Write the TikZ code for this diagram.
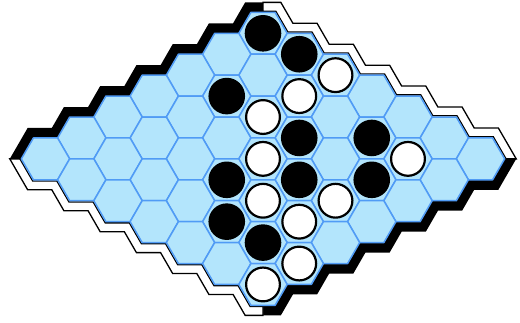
\documentclass[tikz,border=0pt]{standalone}
\usetikzlibrary{calc}
\definecolor{cellfill}{RGB}{179,229,252}
\definecolor{celledge}{RGB}{80,155,245}

\begin{document}
\begin{tikzpicture}[x=1pt, y=1pt,
  cell/.style={fill=cellfill, draw=celledge, line width=1.5pt, line join=round},
  bside/.style={fill=black},
  wside/.style={fill=white, draw=black, line width=1.3pt},
  blk/.style={circle, fill=black, minimum size=36.6pt, inner sep=0pt},
  wht/.style={circle, fill=white, draw=black, line width=2.2pt, minimum size=33.8pt, inner sep=0pt}]
  \def\s{24.17}
  \useasboundingbox (0,0) rectangle (520,322);
  % cell centres
  \foreach \a in {0,...,6}
    \foreach \b in {0,...,6}
      \coordinate (h-\a-\b) at ({263+36.25*(\b-\a)}, {288.7-20.93*(\a+\b)});
  % black sides
  \fill[bside] ($(h-6-0)+(180:\s)$)
    \foreach \a in {6,...,1} { -- ($(h-\a-0)+(120:\s)$) -- ($(h-\a-0)+(60:\s)$) }
    -- ($(h-0-0)+(120:\s)$) -- ($(h-0-0)+(0,20.93)$) -- ($(h-0-0)+(0,30.93)$)
    -- ($(h-0-0)+(120:\s)+(-5.75,10)$)
    \foreach \a in {1,...,6} { -- ($(h-\a-0)+(60:\s)+(-5.75,10)$) -- ($(h-\a-0)+(120:\s)+(-5.75,10)$) }
    -- ($(h-6-0)+(180:\s)+(-11.55,0)$) -- cycle;
  \fill[bside] ($(h-0-6)+(0:\s)$)
    \foreach \a in {0,...,5} { -- ($(h-\a-6)+(300:\s)$) -- ($(h-\a-6)+(240:\s)$) }
    -- ($(h-6-6)+(300:\s)$) -- ($(h-6-6)+(0,-20.93)$) -- ($(h-6-6)+(0,-30.93)$)
    -- ($(h-6-6)+(300:\s)+(5.75,-10)$)
    \foreach \a in {5,...,0} { -- ($(h-\a-6)+(240:\s)+(5.75,-10)$) -- ($(h-\a-6)+(300:\s)+(5.75,-10)$) }
    -- ($(h-0-6)+(0:\s)+(11.55,0)$) -- cycle;
  % white sides
  \filldraw[wside] ($(h-0-0)+(0,22.13)$) -- ($(h-0-0)+(60:\s)+(0.7,1.2)$)
    \foreach \b in {1,...,6} { -- ($(h-0-\b)+(120:\s)+(0.7,1.2)$) -- ($(h-0-\b)+(60:\s)+(0.7,1.2)$) }
    -- ($(h-0-6)+(0:\s)+(1.4,0)$) -- ($(h-0-6)+(0:\s)+(11.55,0)$)
    \foreach \b in {6,...,1} { -- ($(h-0-\b)+(60:\s)+(5.75,10)$) -- ($(h-0-\b)+(120:\s)+(5.75,10)$) }
    -- ($(h-0-0)+(60:\s)+(5.75,10)$) -- ($(h-0-0)+(0,30.93)$) -- cycle;
  \filldraw[wside] ($(h-6-0)+(180:\s)+(-1.4,0)$)
    \foreach \b in {0,...,5} { -- ($(h-6-\b)+(240:\s)+(-0.7,-1.2)$) -- ($(h-6-\b)+(300:\s)+(-0.7,-1.2)$) }
    -- ($(h-6-6)+(240:\s)+(-0.7,-1.2)$) -- ($(h-6-6)+(0,-22.13)$) -- ($(h-6-6)+(0,-30.93)$)
    -- ($(h-6-6)+(240:\s)+(-5.75,-10)$)
    \foreach \b in {5,...,0} { -- ($(h-6-\b)+(300:\s)+(-5.75,-10)$) -- ($(h-6-\b)+(240:\s)+(-5.75,-10)$) }
    -- ($(h-6-0)+(180:\s)+(-11.55,0)$) -- cycle;
  % board
  \foreach \a in {0,...,6}
    \foreach \b in {0,...,6}
      \draw[cell] (h-\a-\b) +(0:\s) -- +(60:\s) -- +(120:\s) -- +(180:\s) -- +(240:\s) -- +(300:\s) -- cycle;
  % stones
  \foreach \a/\b in {0/0, 0/1, 2/1, 2/3, 4/3, 3/4, 5/4, 1/4, 2/5, 5/5}
    \node[blk] (b-\a-\b) at (h-\a-\b) {};
  \foreach \a/\b in {0/2, 2/2, 1/2, 3/3, 4/4, 4/5, 3/5, 1/5, 5/6, 6/6}
    \node[wht] (w-\a-\b) at (h-\a-\b) {};
\end{tikzpicture}
\end{document}
